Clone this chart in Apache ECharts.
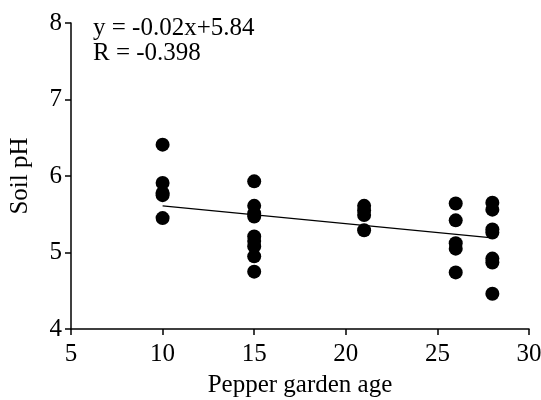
<!DOCTYPE html>
<html>
<head>
<meta charset="utf-8">
<script src="https://cdn.jsdelivr.net/npm/echarts@6/dist/echarts.min.js"></script>
<style>
  html, body { margin: 0; padding: 0; background: #fff; }
  #chart { width: 541px; height: 400px; }
</style>
</head>
<body>
<div id="chart"></div>
<script>
// 园龄与土壤pH
var ages = [10, 10, 10, 10, 10,
            15, 15, 15, 15, 15, 15, 15, 15, 15,
            21, 21, 21, 21,
            26, 26, 26, 26, 26,
            28, 28, 28, 28, 28, 28, 28, 28];
var soilPH = [6.41, 5.91, 5.78, 5.75, 5.45,
              5.93, 5.61, 5.51, 5.47, 5.21, 5.15, 5.08, 4.95, 4.75,
              5.61, 5.55, 5.49, 5.29,
              5.64, 5.42, 5.12, 5.05, 4.74,
              5.65, 5.56, 5.30, 5.26, 4.92, 4.87, 4.46];
// 拟合线端点
var fitX = [10, 28];
var fitY = [5.61, 5.19];
var equationText = ['y = -0.02x+5.84', 'R = -0.398'];

(function () {
    var points = [];
    for (var i = 0; i < soilPH.length; i++) {
        points.push([ages[i], soilPH[i]]);
    }
    var line = fitX.map(function (x, i) { return [x, fitY[i]]; });

    var font = 'Liberation Serif';
    var axisCommon = {
        axisLine: { show: true, onZero: false, lineStyle: { color: '#000', width: 1.5 } },
        axisTick: { show: true, length: 6, lineStyle: { color: '#000', width: 1.5 } },
        splitLine: { show: false }
    };

    var option = {
        animation: false,
        grid: { left: 71, right: 12, top: 23, bottom: 71, outerBoundsMode: 'none', containLabel: false },
        xAxis: Object.assign({
            type: 'value',
            min: 5, max: 30, interval: 5,
            name: 'Pepper garden age',
            nameLocation: 'middle',
            nameGap: 44,
            nameTextStyle: { color: '#000', fontFamily: font, fontSize: 25 },
            axisLabel: { color: '#000', fontFamily: font, fontSize: 25, margin: 13 }
        }, axisCommon),
        yAxis: Object.assign({
            type: 'value',
            min: 4, max: 8, interval: 1,
            name: 'Soil pH',
            nameLocation: 'middle',
            nameGap: 38,
            nameTextStyle: { color: '#000', fontFamily: font, fontSize: 25 },
            axisLabel: { color: '#000', fontFamily: font, fontSize: 25, margin: 9 }
        }, axisCommon),
        graphic: [{
            type: 'text',
            left: 93, top: 16,
            style: {
                text: equationText.join('\n'),
                fill: '#000',
                font: '25px "Liberation Serif"',
                lineHeight: 25
            }
        }],
        series: [{
            type: 'scatter',
            data: points,
            symbolSize: 14,
            itemStyle: { color: '#000', opacity: 1 },
            z: 3
        }, {
            type: 'line',
            data: line,
            symbol: 'none',
            lineStyle: { color: '#000', width: 1.3 },
            z: 2
        }]
    };

    var myechart = echarts.init(document.getElementById('chart'));
    myechart.setOption(option);
})();
</script>
</body>
</html>
